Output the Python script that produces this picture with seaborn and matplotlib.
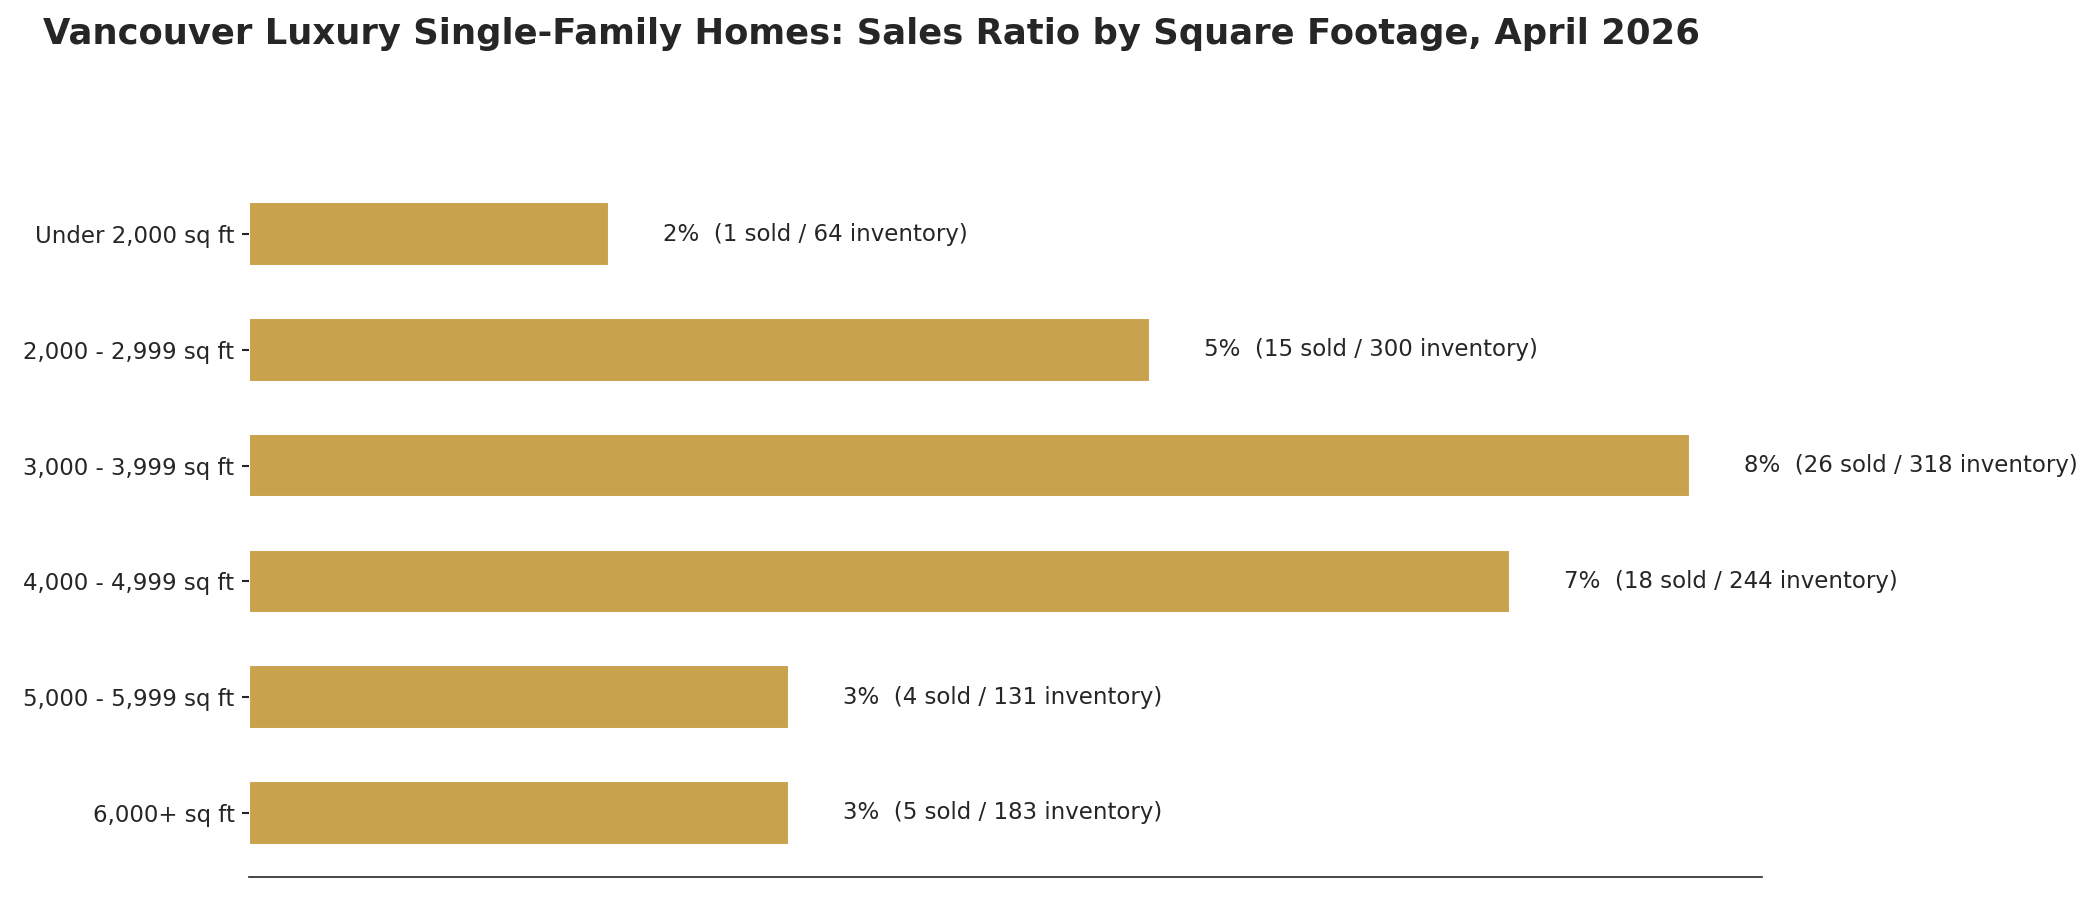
import pandas as pd
import matplotlib
matplotlib.use("Agg")
import matplotlib.pyplot as plt
import seaborn as sns

# Data
size_bands = ["Under 2,000 sq ft", "2,000 - 2,999 sq ft", "3,000 - 3,999 sq ft",
              "4,000 - 4,999 sq ft", "5,000 - 5,999 sq ft", "6,000+ sq ft"]
sales_ratio = [2, 5, 8, 7, 3, 3]
sold = [1, 15, 26, 18, 4, 5]
inventory = [64, 300, 318, 244, 131, 183]

title = "Vancouver Luxury Single-Family Homes: Sales Ratio by Square Footage, April 2026"
bar_color = "#C8A24C"

df = pd.DataFrame({"band": size_bands, "ratio": sales_ratio,
                   "sold": sold, "inventory": inventory})

sns.set_style("white")
fig, ax = plt.subplots(figsize=(14, 6), dpi=150)
fig.subplots_adjust(left=0.1186, right=0.839, bottom=0.0256, top=0.811)

sns.barplot(data=df, x="ratio", y="band", orient="h", color=bar_color,
            width=0.55, saturation=1, ax=ax)

# value labels to the right of each bar
for i, row in df.iterrows():
    ax.text(row["ratio"] + 0.3, i,
            f"{row['ratio']}%  ({row['sold']} sold / {row['inventory']} inventory)",
            va="center", ha="left", fontsize=11, color=".15")

ax.set_xlim(0, 8.4)
ax.set_ylim(5.555, -0.555)
ax.set_xlabel("")
ax.set_ylabel("")
ax.set_xticks([])
ax.tick_params(axis="y", left=True, length=3.5, width=1, color=".15",
               labelsize=11, labelcolor=".15", pad=3.5)
sns.despine(ax=ax, left=True)
ax.spines["bottom"].set_color(".15")

fig.text(0.0205, 0.962, title, ha="left", va="center",
         fontsize=17, fontweight="bold", color=".15")

fig.savefig("out.png", dpi=150)
